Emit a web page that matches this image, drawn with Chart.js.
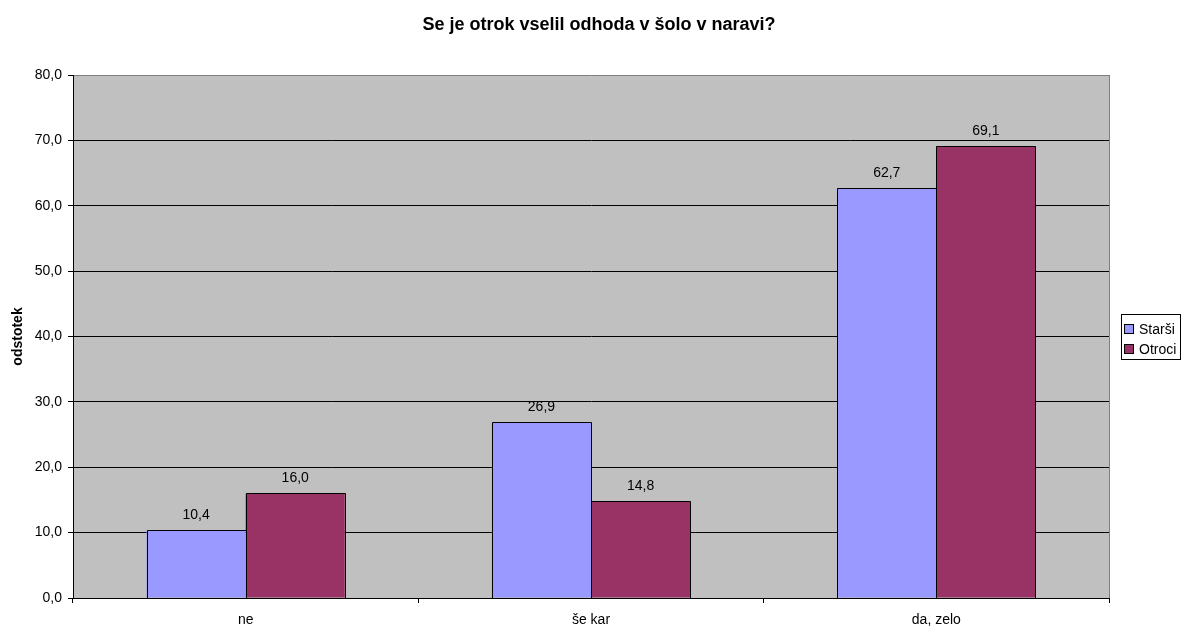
<!DOCTYPE html>
<html>
<head>
<meta charset="utf-8">
<script src="https://cdn.jsdelivr.net/npm/chart.js@4/dist/chart.umd.min.js"></script>
<style>
  html, body { margin: 0; padding: 0; background: #fff; }
  #wrap { width: 1185px; height: 628px; position: relative; }
</style>
</head>
<body>
<div id="wrap"><canvas id="chart"></canvas></div>
<script>
'use strict';

// ── Data ──────────────────────────────────────────────────────
const categories   = ['ne', 'še kar', 'da, zelo'];
const seriesNames  = ['Starši', 'Otroci'];
const starsiValues = [10.4, 26.9, 62.7];
const otrociValues = [16.0, 14.8, 69.1];
const yTicks       = [0, 10, 20, 30, 40, 50, 60, 70, 80];

const chartTitle = 'Se je otrok vselil odhoda v šolo v naravi?';
const yTitle     = 'odstotek';
const colors     = ['#9999FF', '#993366'];
const FONT       = 'Arial, "Liberation Sans", sans-serif';

const fmt = v => v.toFixed(1).replace('.', ',');

// ── Plugins ───────────────────────────────────────────────────
const plotBackground = {
  id: 'plotBackground',
  beforeDraw(chart) {
    const { ctx, chartArea: a } = chart;
    ctx.save();
    ctx.fillStyle = '#C0C0C0';
    ctx.fillRect(a.left, a.top, a.right - a.left, a.bottom - a.top);
    ctx.restore();
  },
  afterDatasetsDraw(chart) {
    const { ctx, chartArea: a } = chart;
    ctx.save();
    // right border of plot area
    ctx.strokeStyle = '#808080';
    ctx.lineWidth = 1;
    ctx.beginPath();
    ctx.moveTo(Math.round(a.right) + 0.5, a.top);
    ctx.lineTo(Math.round(a.right) + 0.5, a.bottom);
    ctx.stroke();

    // crisp bar outlines, taken from the bar elements
    ctx.strokeStyle = '#000';
    chart.data.datasets.forEach((ds, i) => {
      chart.getDatasetMeta(i).data.forEach(bar => {
        const l = Math.round(bar.x - bar.width / 2) + 0.5;
        const r = Math.round(bar.x + bar.width / 2) + 0.5;
        const t = Math.round(bar.y) + 0.5;
        const b = Math.round(bar.base) + 0.5;
        ctx.beginPath();
        ctx.moveTo(l, b);
        ctx.lineTo(l, t);
        ctx.lineTo(r, t);
        ctx.lineTo(r, b);
        ctx.stroke();
      });
    });

    // bar value labels
    ctx.fillStyle = '#000';
    ctx.font = '14px ' + FONT;
    ctx.textAlign = 'center';
    ctx.textBaseline = 'middle';
    chart.data.datasets.forEach((ds, i) => {
      chart.getDatasetMeta(i).data.forEach((bar, j) => {
        ctx.fillText(fmt(ds.data[j]), bar.x, bar.y - 15);
      });
    });

    // title
    ctx.font = 'bold 18px ' + FONT;
    ctx.fillText(chartTitle, 599, 25);

    // legend
    const lx = 1121, ly = 314, lw = 59, lh = 45;
    ctx.strokeStyle = '#000';
    ctx.strokeRect(lx + 0.5, ly + 0.5, lw, lh);
    ctx.font = '14px ' + FONT;
    ctx.textAlign = 'left';
    seriesNames.forEach((name, i) => {
      const cy = 329 + i * 20;
      ctx.fillStyle = colors[i];
      ctx.fillRect(lx + 3, cy - 5, 10, 10);
      ctx.strokeRect(lx + 3.5, cy - 4.5, 9, 9);
      ctx.fillStyle = '#000';
      ctx.fillText(name, lx + 18, cy + 1);
    });
    ctx.restore();
  }
};

// ── Chart ─────────────────────────────────────────────────────
new Chart(document.getElementById('chart'), {
  type: 'bar',
  data: {
    labels: categories,
    datasets: [
      { label: seriesNames[0], data: starsiValues, backgroundColor: colors[0], borderWidth: 0 },
      { label: seriesNames[1], data: otrociValues, backgroundColor: colors[1], borderWidth: 0 },
    ],
  },
  plugins: [plotBackground],
  options: {
    responsive: true,
    maintainAspectRatio: false,
    animation: false,
    layout: { padding: { top: 75, right: 76, bottom: 0, left: 0 } },
    datasets: { bar: { categoryPercentage: 0.574, barPercentage: 1 } },
    plugins: {
      legend: { display: false },
      tooltip: { enabled: false },
    },
    scales: {
      x: {
        grid: { display: true, drawOnChartArea: false, drawTicks: true, tickLength: 5, color: '#000', offset: true },
        border: { color: '#000' },
        ticks: { color: '#000', font: { family: FONT, size: 14 }, padding: 9 },
        afterFit(scale) { scale.height = 30; },
      },
      y: {
        min: 0,
        max: 80,
        afterBuildTicks(scale) { scale.ticks = yTicks.map(v => ({ value: v })); },
        grid: {
          color: ctx => (ctx.tick && ctx.tick.value === 80 ? '#808080' : '#000'),
          tickColor: '#000',
          tickLength: 5,
        },
        border: { color: '#000' },
        ticks: { color: '#000', font: { family: FONT, size: 14 }, padding: 6, callback: v => fmt(v) },
        title: { display: true, text: yTitle, color: '#000', font: { family: FONT, size: 14, weight: 'bold' }, padding: { top: 10, bottom: 0 } },
        afterFit(scale) { scale.width = 73; },
      },
    },
  },
});
</script>
</body>
</html>
